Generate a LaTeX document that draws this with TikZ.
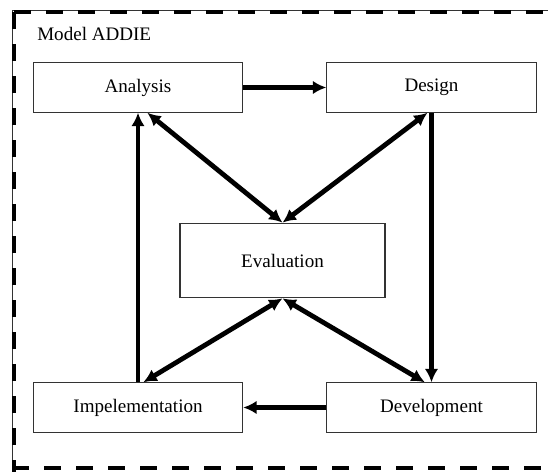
\documentclass[tikz,border=0pt]{standalone}
\usepackage{fontspec}
\setmainfont{Liberation Serif}
\usetikzlibrary{arrows.meta}

\begin{document}
\begin{tikzpicture}[x=0.75pt, y=-0.75pt,
  font=\fontsize{14.3}{16}\selectfont,
  stage/.style={draw=black!80, line width=0.8pt, minimum width=157pt, minimum height=37pt, inner sep=0pt},
  flow/.style={line width=3.6pt, -{Latex[length=10pt,width=10pt]}},
  both/.style={line width=3.6pt, {Latex[length=10pt,width=10pt]}-{Latex[length=10pt,width=10pt]}},
  frame/.style={line width=3.4pt, dash pattern=on 13pt off 11pt}]
\useasboundingbox (0,0) rectangle (548,471);

% frame
\draw[black!80, line width=0.6pt] (560,10) -- (12,10) -- (12,480);
\draw[frame] (14,12) -- (560,12);
\draw[frame] (14,12) -- (14,480);
\draw[frame] (12,468) -- (560,468);
\node[anchor=base west, inner sep=0pt] (title) at (37,40) {Model ADDIE};

% stages
\node[stage] (ana) at (138,87.5) {Analysis};
\node[stage] (des) at (431.5,87.5) {Design};
\node[stage, minimum width=153.75pt, minimum height=56pt] (eva) at (282.5,260.5) {Evaluation};
\node[stage] (imp) at (138,407.5) {Impelementation};
\node[stage] (dev) at (431.5,407.5) {Development};

% cycle
\draw[flow] (ana) -- (des);
\draw[flow] (des) -- (dev);
\draw[flow] (dev) -- (imp);
\draw[flow] (imp) -- (ana);

% evaluation links
\draw[both] ([xshift=7pt]ana.south) -- (eva.north);
\draw[both] ([xshift=-3pt]des.south) -- (eva.north);
\draw[both] ([xshift=4pt]imp.north) -- (eva.south);
\draw[both] ([xshift=-5pt]dev.north) -- (eva.south);

\end{tikzpicture}
\end{document}
